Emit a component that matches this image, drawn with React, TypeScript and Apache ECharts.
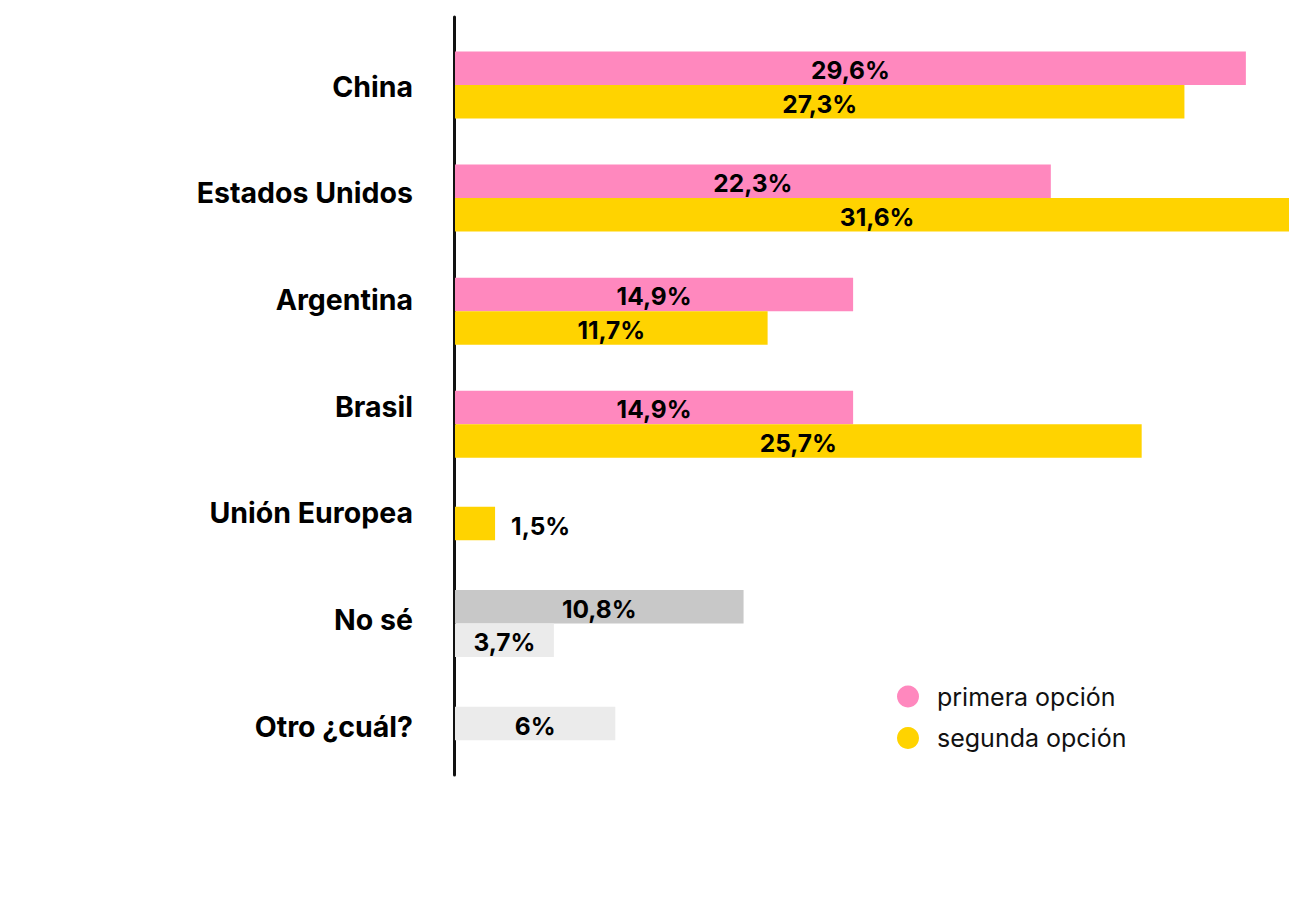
import React, { useEffect, useRef } from "react";
import * as echarts from "echarts";

const categories = ["China", "Estados Unidos", "Argentina", "Brasil", "Unión Europea", "No sé", "Otro ¿cuál?"];
const primeraOpcion = [29.6, 22.3, 14.9, 14.9, null, 10.8, null];
const segundaOpcion = [27.3, 31.6, 11.7, 25.7, null, 3.7, null];
const unicaOpcion = [null, null, null, null, 1.5, null, 6];
const legendNames = ["primera opción", "segunda opción"];

const PINK = "#FF88BE";
const YELLOW = "#FFD300";
const GRAY = "#C8C8C8";
const LIGHT = "#EBEBEB";
const FONT = "Inter, 'Noto Sans', sans-serif";

const fmt = (v: number) => String(v).replace(".", ",") + "%";

export default function App() {
  const ref = useRef<HTMLDivElement>(null);
  useEffect(() => {
    if (!ref.current) return;
    const chart = echarts.init(ref.current, null, { renderer: "svg" });
    const isNoSe = (c: string) => c === "No sé";
    const label = {
      show: true,
      position: "inside",
      offset: [0, 2],
      formatter: (p: any) => fmt(p.value),
      color: "#000",
      fontFamily: FONT,
      fontWeight: "bold",
      fontSize: 24.5,
    };
    const splitAt = 4;
    const catsA = categories.slice(0, splitAt);
    const catsB = categories.slice(splitAt);
    const pairData = (arr: (number | null)[], cats: string[], base: string, noSe: string) =>
      arr.map((v, i) => ({ value: v, itemStyle: { color: isNoSe(cats[i]) ? noSe : base } }));
    const barCommon = { type: "bar", barWidth: 33.5, barGap: "0%", label };

    chart.setOption({
      animation: false,
      backgroundColor: "#fff",
      grid: [
        { left: 455, top: 32.7, height: 746.7, width: 855 },
        { left: 454.5, top: 17, height: 758, width: 855 },
        { left: 455, top: 28.5, height: 452.2, width: 855 },
        { left: 455, top: 473.5, height: 300, width: 855 },
      ],
      xAxis: [0, 1, 2, 3].map((g) => ({ type: "value", gridIndex: g, show: false, min: 0, max: 32 })),
      yAxis: [
        {
          type: "category",
          gridIndex: 0,
          data: categories,
          inverse: true,
          axisLine: { show: false },
          axisTick: { show: false },
          axisLabel: { margin: 42, color: "#000", fontFamily: FONT, fontWeight: "bold", fontSize: 28.5 },
        },
        {
          type: "category",
          gridIndex: 1,
          data: [""],
          axisLine: { show: true, lineStyle: { color: "#111", width: 3 } },
          axisTick: { show: false },
          axisLabel: { show: false },
        },
        { type: "category", gridIndex: 2, data: catsA, inverse: true, show: false },
        { type: "category", gridIndex: 3, data: catsB, inverse: true, show: false },
        { type: "category", gridIndex: 3, data: catsB, inverse: true, show: false },
      ],
      legend: {
        data: legendNames,
        orient: "vertical",
        left: 892,
        top: 679,
        icon: "circle",
        itemWidth: 48,
        itemHeight: 22,
        itemGap: 16.5,
        textStyle: { fontFamily: FONT, fontSize: 25, color: "#111" },
      },
      series: [
        {
          ...barCommon,
          name: legendNames[0],
          xAxisIndex: 2,
          yAxisIndex: 2,
          itemStyle: { color: PINK },
          data: pairData(primeraOpcion.slice(0, splitAt), catsA, PINK, GRAY),
        },
        {
          ...barCommon,
          name: legendNames[1],
          xAxisIndex: 2,
          yAxisIndex: 2,
          itemStyle: { color: YELLOW },
          data: pairData(segundaOpcion.slice(0, splitAt), catsA, YELLOW, LIGHT),
        },
        {
          ...barCommon,
          name: legendNames[0],
          xAxisIndex: 3,
          yAxisIndex: 3,
          itemStyle: { color: PINK },
          data: pairData(primeraOpcion.slice(splitAt), catsB, PINK, GRAY),
        },
        {
          ...barCommon,
          name: legendNames[1],
          xAxisIndex: 3,
          yAxisIndex: 3,
          itemStyle: { color: YELLOW },
          data: pairData(segundaOpcion.slice(splitAt), catsB, YELLOW, LIGHT),
        },
        {
          ...barCommon,
          name: "única",
          xAxisIndex: 3,
          yAxisIndex: 4,
          data: unicaOpcion.slice(splitAt).map((v, i) => ({
            value: v,
            itemStyle: { color: catsB[i] === "Unión Europea" ? YELLOW : LIGHT },
            label: catsB[i] === "Unión Europea" ? { position: "right", distance: 16 } : undefined,
          })),
        },
      ],
    });
    return () => chart.dispose();
  }, []);
  return (
    <div style={{ position: "absolute", left: 0, top: 0, width: 1289, height: 908, overflow: "hidden", background: "#fff" }}>
      <div ref={ref} style={{ width: 1330, height: 908 }} />
    </div>
  );
}
